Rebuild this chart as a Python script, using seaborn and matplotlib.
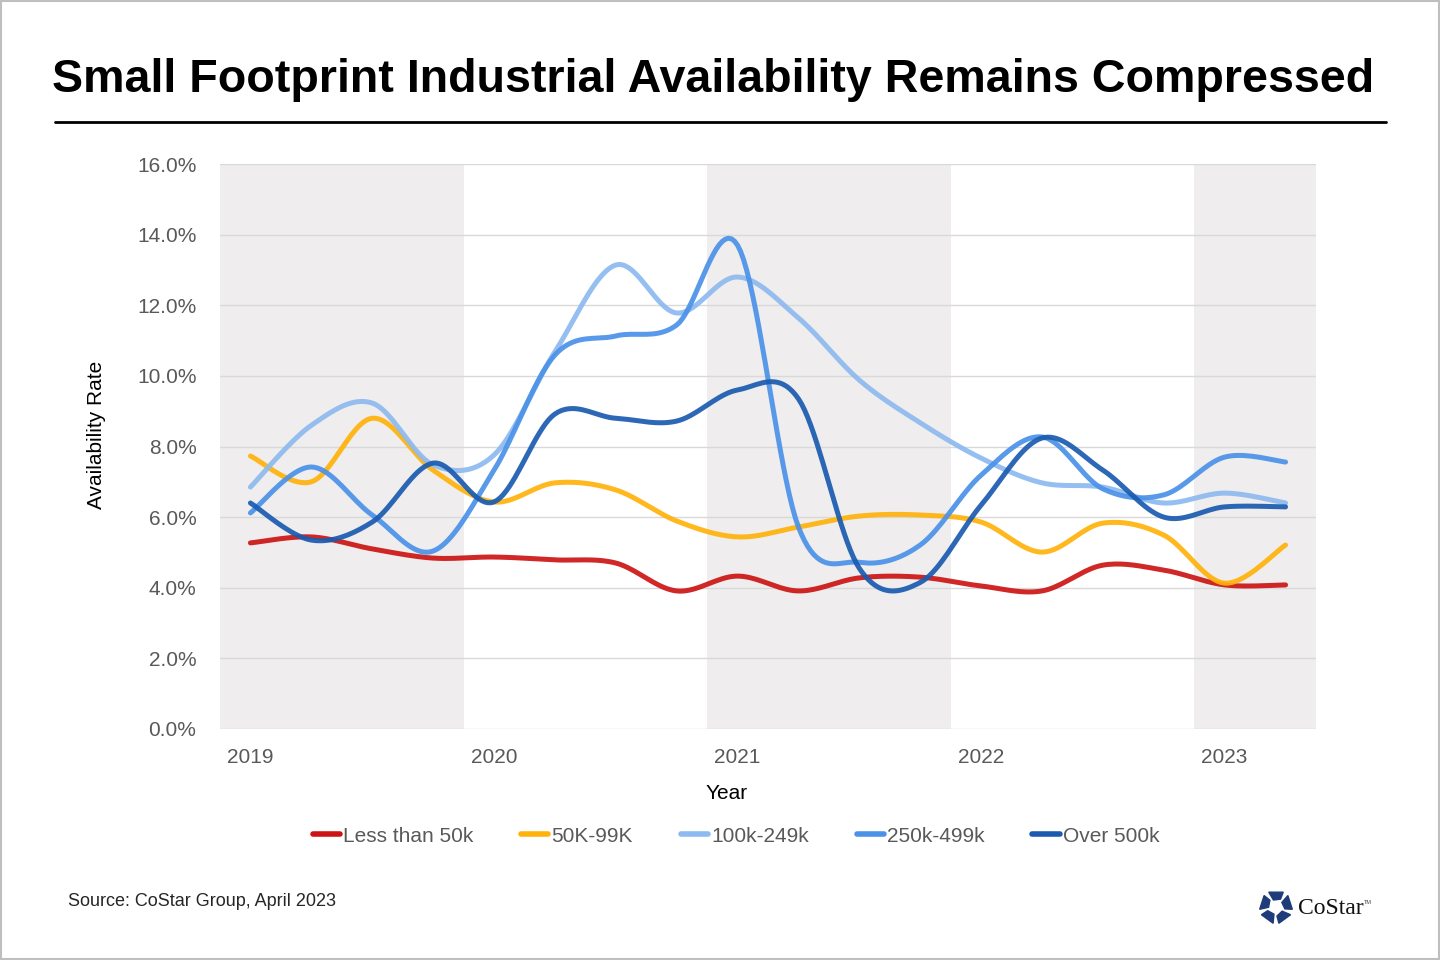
import numpy as np
import pandas as pd
import seaborn as sns
import matplotlib.pyplot as plt
from matplotlib.patches import Polygon, Rectangle
from matplotlib.lines import Line2D

# quarterly availability rates (%), 2019 Q1 .. 2023 Q2
quarters = ['2019Q1', '2019Q2', '2019Q3', '2019Q4', '2020Q1', '2020Q2', '2020Q3', '2020Q4',
            '2021Q1', '2021Q2', '2021Q3', '2021Q4', '2022Q1', '2022Q2', '2022Q3', '2022Q4',
            '2023Q1', '2023Q2']
less_50k = [5.27, 5.44, 5.10, 4.84, 4.87, 4.79, 4.70, 3.91, 4.33, 3.91, 4.28, 4.30,
            4.05, 3.91, 4.64, 4.50, 4.08, 4.08]
k50_99 = [7.73, 7.00, 8.80, 7.33, 6.43, 6.97, 6.77, 5.89, 5.44, 5.72, 6.03, 6.06,
          5.86, 5.01, 5.83, 5.49, 4.13, 5.21]
k100_249 = [6.85, 8.60, 9.23, 7.48, 7.76, 10.68, 13.14, 11.78, 12.80, 11.64, 9.88, 8.67,
            7.67, 6.97, 6.85, 6.40, 6.68, 6.40]
k250_499 = [6.12, 7.42, 6.06, 5.04, 7.33, 10.59, 11.13, 11.44, 13.70, 5.72, 4.72, 5.21,
            7.19, 8.27, 6.80, 6.63, 7.70, 7.56]
over_500k = [6.40, 5.35, 5.86, 7.53, 6.43, 8.92, 8.80, 8.72, 9.60, 9.35, 4.55, 4.15,
             6.34, 8.24, 7.33, 6.00, 6.29, 6.29]
series_names = ['Less than 50k', '50K-99K', '100k-249k', '250k-499k', 'Over 500k']
colors = ['#CC1414', '#FFB20A', '#8DBAF0', '#4A92E8', '#1A5BB0']
year_labels = ['2019', '2020', '2021', '2022', '2023']


def smooth(y, n=20):
    # Excel-style smoothed line: Catmull-Rom bezier through the points
    y = np.asarray(y, float)
    x = np.arange(len(y), dtype=float)
    px = np.concatenate([[x[0]], x, [x[-1]]])
    py = np.concatenate([[y[0]], y, [y[-1]]])
    xs, ys = [], []
    t = np.linspace(0, 1, n, endpoint=False)
    for i in range(1, len(px) - 2):
        p0, p1, p2, p3 = [np.array([px[j], py[j]]) for j in (i - 1, i, i + 1, i + 2)]
        c1 = p1 + (p2 - p0) / 6
        c2 = p2 - (p3 - p1) / 6
        b = ((1 - t) ** 3)[:, None] * p1 + (3 * (1 - t) ** 2 * t)[:, None] * c1 \
            + (3 * (1 - t) * t ** 2)[:, None] * c2 + (t ** 3)[:, None] * p2
        xs.extend(b[:, 0]); ys.extend(b[:, 1])
    xs.append(x[-1]); ys.append(y[-1])
    return np.array(xs), np.array(ys)


frames = []
for name, vals in zip(series_names, [less_50k, k50_99, k100_249, k250_499, over_500k]):
    sx, sy = smooth(vals)
    frames.append(pd.DataFrame({'q': sx, 'rate': sy, 'series': name}))
df = pd.concat(frames, ignore_index=True)

sns.set_style('white')
plt.rcParams['font.family'] = ['Liberation Sans', 'DejaVu Sans']
plt.rcParams['text.color'] = 'black'

fig = plt.figure(figsize=(14.4, 9.6), dpi=100)
ax = fig.add_axes([220 / 1440, 1 - 729 / 960, (1316 - 220) / 1440, (729 - 164) / 960])

# alternating year bands
for k in (0, 2, 4):
    ax.axvspan(k * 4 - 0.5, min(k * 4 + 3.5, 17.5), color='#EFEDED', zorder=0, lw=0)

sns.lineplot(data=df, x='q', y='rate', hue='series', palette=colors, hue_order=series_names,
             sort=False, estimator=None, lw=3.6, alpha=0.92, legend=False, ax=ax, zorder=3)

ax.set_xlim(-0.5, 17.5)
ax.set_ylim(0, 16)
ax.set_yticks(np.arange(0, 16.1, 2))
ax.set_yticklabels([f'{v:.1f}%' for v in np.arange(0, 16.1, 2)])
ax.set_xticks([0, 4, 8, 12, 16])
ax.set_xticklabels(year_labels)
ax.grid(axis='y', color='#D9D9D9', lw=1)
ax.set_axisbelow(True)
for s in ax.spines.values():
    s.set_visible(False)
ax.tick_params(axis='both', labelsize=15, colors='#595959', length=0)
ax.tick_params(axis='y', pad=17)
ax.tick_params(axis='x', pad=14)
ax.set_xlabel('Year', fontsize=15, color='black')
ax.set_ylabel('Availability Rate', fontsize=15, color='black')
ax.xaxis.set_label_coords((727 - 220) / 1096, -(784 - 729) / 565)
ax.yaxis.set_label_coords(-(220 - 106) / 1096, (729 - 435) / 565)

handles = [Line2D([], [], color=c, lw=4) for c in colors]
fig.legend(handles, series_names, loc='center', bbox_to_anchor=(736 / 1440, 1 - 836 / 960),
           ncol=5, frameon=False, fontsize=15, handlelength=1.3, handletextpad=0.15,
           columnspacing=2.3, labelcolor='#595959')

fig.text(52 / 1440, 1 - 80 / 960, 'Small Footprint Industrial Availability Remains Compressed',
         fontsize=33.6, fontweight='bold', va='center', ha='left', color='black')
fig.add_artist(Line2D([55 / 1440, 1386 / 1440], [1 - 122 / 960] * 2, color='black', lw=2))
fig.text(68 / 1440, 1 - 901 / 960, 'Source: CoStar Group, April 2023', fontsize=13,
         color='#262626', va='center')

# CoStar logo
cx, cy, r = 1276, 907, 11
for k in range(5):
    a = np.deg2rad(90 + 72 * k)
    pts = []
    for da, rr in ((-26, r), (26, r), (20, r * 0.45), (-30, r * 0.55)):
        aa = a + np.deg2rad(da)
        pts.append(((cx + rr * 1.5 * np.cos(aa)) / 1440, 1 - (cy - rr * 1.5 * np.sin(aa)) / 960))
    fig.add_artist(Polygon(pts, closed=True, color='#1F3C7A', transform=fig.transFigure))
fig.text(1298 / 1440, 1 - 908 / 960, 'CoStar', fontsize=17, family='Liberation Serif',
         va='center', color='#111111')
fig.text(1364 / 1440, 1 - 902 / 960, 'TM', fontsize=4, va='center', color='#444444')

fig.add_artist(Rectangle((0.0007, 0.001), 0.9986, 0.998, fill=False, ec='#BFBFBF', lw=1.5,
                         transform=fig.transFigure))

fig.savefig('out.png', dpi=100)
